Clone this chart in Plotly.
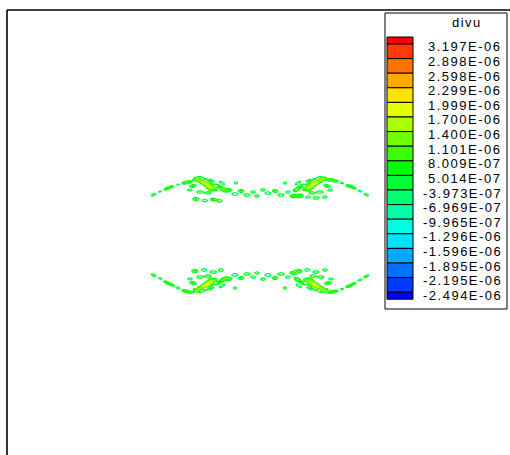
import numpy as np
import plotly.graph_objects as go
from plotly.colors import sample_colorscale

W, H = 510, 455

# ---------------- contour levels of divu (legend order, top to bottom) ----------------
level_labels = ["3.197E-06", "2.898E-06", "2.598E-06", "2.299E-06", "1.999E-06",
                "1.700E-06", "1.400E-06", "1.101E-06", "8.009E-07", "5.014E-07",
                "-3.973E-07", "-6.969E-07", "-9.965E-07", "-1.296E-06", "-1.596E-06",
                "-1.895E-06", "-2.195E-06", "-2.494E-06"]
level_values = [float(s) * 1e6 for s in level_labels]   # field is stored in 1e-6 units
legend_title = "divu"

# ---------------- divu field features (x, y in domain units, amplitude in 1e-6) --------
# thin dashed arcs at the outer ends of both bands
arc_x = [-1.06, -1.00, -0.94, -0.88, -0.82, -0.76, -0.71,
         0.71, 0.76, 0.82, 0.88, 0.94, 1.00, 1.06,
         -1.06, -1.00, -0.94, -0.88, -0.82, -0.76, -0.71,
         0.71, 0.76, 0.82, 0.88, 0.94, 1.00, 1.06]
arc_y = [0.40, 0.43, 0.455, 0.48, 0.50, 0.515, 0.525,
         0.545, 0.535, 0.515, 0.49, 0.465, 0.435, 0.40,
         -0.41, -0.44, -0.475, -0.505, -0.535, -0.56, -0.575,
         -0.575, -0.565, -0.545, -0.52, -0.49, -0.455, -0.42]
arc_tilt = [27, 24, 20, 17, 14, 10, 8,
            -8, -10, -14, -17, -20, -24, -27,
            -27, -24, -22, -19, -16, -12, -8,
            8, 10, 14, 17, 20, 24, 27]
arc_amp = [0.85, -0.7, 0.9, 0.8, -0.7, 0.9, 0.8,
           0.8, 0.9, -0.7, 0.85, 0.9, -0.7, 0.8,
           0.9, -0.7, 0.85, 0.9, -0.7, 0.85, 0.8,
           0.8, 0.85, -0.7, 0.9, 0.85, -0.7, 0.9]
arc_len, arc_wid = 0.03, 0.009

# streaky clusters, one per band and side (upper-left, upper-right, lower-left, lower-right)
clu_x = [-0.51, -0.60, -0.48, -0.41, -0.56, -0.36, -0.67, -0.70, -0.60, -0.45, -0.63, -0.38, -0.53, -0.52,
         0.51, 0.60, 0.48, 0.41, 0.56, 0.36, 0.67, 0.70, 0.60, 0.45, 0.63, 0.38, 0.53, 0.52,
         -0.51, -0.60, -0.48, -0.41, -0.56, -0.36, -0.67, -0.70, -0.60, -0.45, -0.63, -0.38, -0.53, -0.52,
         0.52, 0.61, 0.49, 0.42, 0.57, 0.37, 0.68, 0.71, 0.61, 0.46, 0.64, 0.39, 0.54, 0.53]
clu_y = [0.485, 0.535, 0.535, 0.485, 0.475, 0.445, 0.485, 0.445, 0.425, 0.425, 0.56, 0.515, 0.545, 0.415,
         0.485, 0.535, 0.535, 0.485, 0.475, 0.445, 0.485, 0.445, 0.425, 0.425, 0.56, 0.515, 0.545, 0.415,
         -0.485, -0.535, -0.535, -0.485, -0.475, -0.445, -0.485, -0.445, -0.425, -0.425, -0.56, -0.515, -0.545, -0.415,
         -0.485, -0.535, -0.535, -0.485, -0.475, -0.445, -0.485, -0.445, -0.425, -0.425, -0.56, -0.515, -0.545, -0.415]
clu_len = [0.065, 0.05, 0.045, 0.04, 0.035, 0.025, 0.03, 0.025, 0.03, 0.025, 0.035, 0.03, 0.03, 0.025] * 4
clu_wid = [0.024, 0.011, 0.009, 0.011, 0.009, 0.011, 0.012, 0.01, 0.011, 0.01, 0.008, 0.009, 0.008, 0.01] * 4
clu_tilt = [-35, -30, -30, -30, -35, -20, 10, 0, 0, -10, 20, -30, -25, 0,
            35, 30, 30, 30, 35, 20, -10, 0, 0, 10, -20, 30, 25, 0,
            35, 30, 30, 30, 35, 20, -10, 0, 0, 10, -20, 30, 25, 0,
            -35, -30, -30, -30, -35, -20, 10, 0, 0, -10, 20, -30, -25, 0]
clu_amp = [1.7, 1.0, -0.8, 0.95, -0.75, 0.9, 0.9, -0.65, 0.85, -0.7, 0.85, -0.7, 0.8, 0.8,
           1.7, 1.0, -0.8, 0.95, -0.75, 0.9, 0.9, -0.65, 0.85, -0.7, 0.85, -0.7, 0.8, 0.8,
           1.7, 1.0, -0.8, 0.95, -0.75, 0.9, 0.9, -0.65, 0.85, -0.7, 0.85, -0.7, 0.8, 0.8,
           1.7, 1.0, -0.8, 0.95, -0.75, 0.9, 0.9, -0.65, 0.85, -0.7, 0.85, -0.7, 0.8, 0.8]

# small closed loops between and beside the clusters
loop_x = [-0.64, -0.55, -0.47, -0.40, -0.31, -0.25, -0.19, -0.13, -0.07, -0.03, -0.24,
          0.40, 0.48, 0.56, 0.65, 0.03, 0.08, 0.15, 0.21, 0.28, 0.33, 0.25,
          -0.65, -0.56, -0.47, -0.39, -0.31, -0.25, -0.19, -0.13, -0.07, -0.03, -0.25,
          0.39, 0.47, 0.56, 0.65, 0.03, 0.08, 0.15, 0.21, 0.28, 0.33, 0.25]
loop_y = [0.355, 0.34, 0.35, 0.335, 0.445, 0.405, 0.435, 0.395, 0.425, 0.385, 0.515,
          0.385, 0.375, 0.365, 0.375, 0.445, 0.415, 0.435, 0.395, 0.425, 0.385, 0.515,
          -0.365, -0.355, -0.375, -0.355, -0.445, -0.405, -0.435, -0.395, -0.425, -0.385, -0.535,
          -0.365, -0.355, -0.375, -0.355, -0.445, -0.405, -0.435, -0.395, -0.425, -0.385, -0.535]
loop_len = [0.03, 0.028, 0.03, 0.022, 0.028, 0.03, 0.026, 0.03, 0.024, 0.022, 0.014,
            0.03, 0.028, 0.03, 0.022, 0.024, 0.03, 0.026, 0.03, 0.024, 0.028, 0.014,
            0.03, 0.028, 0.03, 0.022, 0.028, 0.03, 0.026, 0.03, 0.024, 0.022, 0.014,
            0.03, 0.028, 0.03, 0.022, 0.024, 0.03, 0.026, 0.03, 0.024, 0.028, 0.014]
loop_wid = [0.013, 0.012, 0.012, 0.012, 0.013, 0.013, 0.013, 0.012, 0.012, 0.012, 0.011,
            0.013, 0.012, 0.012, 0.012, 0.012, 0.013, 0.013, 0.012, 0.012, 0.013, 0.011,
            0.013, 0.012, 0.012, 0.012, 0.013, 0.013, 0.013, 0.012, 0.012, 0.012, 0.011,
            0.013, 0.012, 0.012, 0.012, 0.012, 0.013, 0.013, 0.012, 0.012, 0.013, 0.011]
loop_amp = [0.9, -0.7, 0.85, 0.8, 0.9, -0.7, 0.9, 0.85, -0.65, 0.8, 0.85,
            0.9, -0.7, 0.85, 0.8, 0.8, -0.7, 0.9, 0.85, -0.65, 0.9, 0.85,
            0.9, -0.7, 0.85, 0.8, 0.9, -0.7, 0.9, 0.85, -0.65, 0.8, 0.85,
            0.9, -0.7, 0.85, 0.8, 0.8, -0.7, 0.9, 0.85, -0.65, 0.9, 0.85]

# ---------------- assemble the field on the mesh ----------------
gx = np.round(np.arange(-1.15, 1.1501, 0.01), 2)
gy = np.round(np.arange(-0.65, 0.6501, 0.01), 2)
X, Y = np.meshgrid(gx, gy)
Z = np.zeros_like(X)


def add_features(xs, ys, lens, wids, tilts, amps):
    global Z
    for x0, y0, ln, wd, t, a in zip(xs, ys, lens, wids, tilts, amps):
        th = np.radians(t)
        u = (X - x0) * np.cos(th) + (Y - y0) * np.sin(th)
        v = -(X - x0) * np.sin(th) + (Y - y0) * np.cos(th)
        Z = Z + a * np.exp(-0.5 * ((u / ln) ** 2 + (v / wd) ** 2))


add_features(arc_x, arc_y, [arc_len] * len(arc_x), [arc_wid] * len(arc_x), arc_tilt, arc_amp)
add_features(clu_x, clu_y, clu_len, clu_wid, clu_tilt, clu_amp)
add_features(loop_x, loop_y, loop_len, loop_wid, [0] * len(loop_x), loop_amp)
Z = np.round(Z, 3)

# ---------------- colour map (blue - cyan - green - yellow - red) ----------------
rainbow = [[0.0, "rgb(0,0,255)"], [0.25, "rgb(0,255,255)"], [0.5, "rgb(0,255,0)"],
           [0.75, "rgb(255,255,0)"], [1.0, "rgb(255,0,0)"]]
n_lev = len(level_values)
asc = sorted(level_values)
line_cols = sample_colorscale(rainbow, [(j + 0.5) / n_lev for j in range(n_lev)])   # per level, ascending
band_cols = sample_colorscale(rainbow, [i / n_lev for i in range(n_lev + 1)])      # per band, ascending

pos_lev = [v for v in asc if v > 0]
neg_lev = [v for v in asc if v < 0]
pos_cols = line_cols[len(neg_lev):]
neg_cols = line_cols[:len(neg_lev)]
step = asc[-1] - asc[-2]


def scale(cols):
    n = len(cols)
    return [[i / (n - 1), c] for i, c in enumerate(cols)]


fig = go.Figure()
for levs, cols in ((pos_lev, pos_cols), (neg_lev, neg_cols)):
    fig.add_trace(go.Contour(
        x=gx, y=gy, z=Z,
        contours=dict(coloring="lines", start=levs[0], end=levs[-1] + step * 0.02, size=step),
        colorscale=scale(cols), showscale=False,
        line=dict(width=1.3, smoothing=0.6),
        hoverinfo="skip",
    ))


def px(x):
    return x / W


def py(y):
    return 1 - y / H


FONT = dict(family="Liberation Sans, Arial, sans-serif", size=13, color="black")


def spaced(s):
    return '<span style="letter-spacing:1.5px">' + s + '</span>'


shapes = []
# frame of the plot
shapes.append(dict(type="line", xref="paper", yref="paper", x0=px(7), x1=px(7), y0=py(10), y1=-0.02,
                   line=dict(color="black", width=1.6)))
shapes.append(dict(type="line", xref="paper", yref="paper", x0=px(7), x1=1.02, y0=py(10), y1=py(10),
                   line=dict(color="black", width=1.6)))
# legend box
shapes.append(dict(type="rect", xref="paper", yref="paper", x0=px(385), x1=px(507), y0=py(13), y1=py(309),
                   line=dict(color="black", width=1), fillcolor="white", layer="below"))

annotations = [dict(text=spaced(legend_title), x=px(467), y=py(22), xref="paper", yref="paper",
                    xanchor="center", yanchor="middle", showarrow=False, font=FONT)]

top, pitch, half = 44.0, 14.6, 7.0
bands_desc = band_cols[::-1]
for i, c in enumerate(bands_desc):
    if i == 0:
        y0, y1 = top - half, top
    elif i == n_lev:
        y0, y1 = top + pitch * (n_lev - 1), top + pitch * (n_lev - 1) + half
    else:
        y0, y1 = top + pitch * (i - 1), top + pitch * i
    shapes.append(dict(type="rect", xref="paper", yref="paper", x0=px(387), x1=px(413),
                       y0=py(y0), y1=py(y1), fillcolor=c, line=dict(color="black", width=1)))

for k, lab in enumerate(level_labels):
    annotations.append(dict(text=spaced(lab), x=px(504), y=py(top + pitch * k + 3), xref="paper", yref="paper",
                            xanchor="right", yanchor="middle", showarrow=False, font=FONT))

fig.update_layout(
    width=W, height=H, margin=dict(l=0, r=0, t=0, b=0),
    paper_bgcolor="white", plot_bgcolor="white",
    xaxis=dict(range=[-2.6, 2.5], visible=False, fixedrange=True),
    yaxis=dict(range=[-2.205, 2.345], visible=False, fixedrange=True),
    shapes=shapes, annotations=annotations, showlegend=False,
)

fig.write_html("out.html")
